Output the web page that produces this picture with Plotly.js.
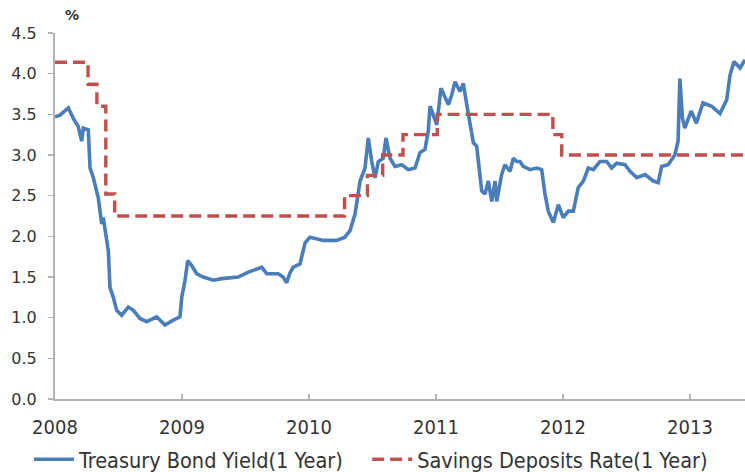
<!DOCTYPE html>
<html>
<head>
<meta charset="utf-8">
<script src="https://cdn.plot.ly/plotly-3.0.1.min.js"></script>
<style>html,body{margin:0;padding:0;background:#fff}#chart{width:745px;height:472px}</style>
</head>
<body>
<div id="chart"></div>
<script>
var bondYear = [2008.000,2008.039,2008.105,2008.144,2008.183,2008.210,2008.223,2008.262,2008.276,2008.302,2008.341,2008.368,2008.380,2008.394,2008.420,2008.433,2008.459,2008.486,2008.525,2008.577,2008.617,2008.669,2008.722,2008.801,2008.866,2008.931,2008.984,2008.998,2009.024,2009.045,2009.076,2009.116,2009.168,2009.246,2009.313,2009.443,2009.522,2009.628,2009.667,2009.758,2009.795,2009.824,2009.850,2009.876,2009.929,2009.969,2010.008,2010.113,2010.218,2010.283,2010.323,2010.362,2010.402,2010.441,2010.467,2010.494,2010.520,2010.546,2010.585,2010.606,2010.638,2010.677,2010.730,2010.782,2010.835,2010.874,2010.913,2010.939,2010.953,2010.979,2011.006,2011.039,2011.071,2011.097,2011.124,2011.150,2011.189,2011.215,2011.242,2011.268,2011.294,2011.320,2011.346,2011.360,2011.386,2011.412,2011.439,2011.465,2011.478,2011.517,2011.543,2011.583,2011.609,2011.635,2011.661,2011.687,2011.740,2011.793,2011.832,2011.858,2011.884,2011.924,2011.963,2012.002,2012.042,2012.081,2012.120,2012.160,2012.199,2012.239,2012.291,2012.344,2012.383,2012.423,2012.488,2012.528,2012.581,2012.646,2012.711,2012.750,2012.776,2012.828,2012.880,2012.906,2012.920,2012.941,2012.959,2013.009,2013.050,2013.102,2013.171,2013.236,2013.289,2013.315,2013.346,2013.394,2013.433];
var bondYield = [3.47,3.49,3.58,3.45,3.35,3.17,3.33,3.31,2.84,2.72,2.47,2.15,2.23,2.07,1.82,1.37,1.25,1.09,1.03,1.13,1.09,0.99,0.95,1.01,0.91,0.97,1.01,1.25,1.46,1.70,1.64,1.54,1.50,1.46,1.48,1.50,1.56,1.62,1.54,1.54,1.50,1.43,1.55,1.62,1.66,1.92,1.99,1.95,1.95,1.99,2.07,2.27,2.68,2.84,3.21,2.92,2.72,2.92,2.96,3.21,2.96,2.86,2.88,2.82,2.84,3.03,3.07,3.29,3.60,3.49,3.37,3.82,3.70,3.62,3.74,3.90,3.78,3.88,3.62,3.39,3.15,3.11,2.76,2.56,2.52,2.68,2.43,2.68,2.43,2.76,2.88,2.80,2.96,2.92,2.92,2.86,2.82,2.84,2.82,2.52,2.31,2.17,2.39,2.23,2.31,2.31,2.60,2.68,2.84,2.82,2.92,2.92,2.84,2.90,2.88,2.80,2.72,2.76,2.68,2.66,2.86,2.88,3.00,3.17,3.94,3.45,3.33,3.54,3.39,3.64,3.60,3.51,3.68,3.98,4.15,4.07,4.17];

var depositYear = [2008.0,2008.26,2008.33,2008.40,2008.47,2010.28,2010.46,2010.58,2010.74,2011.01,2011.92,2011.99,2013.433];
var depositRate = [4.14,3.87,3.60,2.52,2.25,2.50,2.75,3.00,3.25,3.50,3.25,3.00,3.00];

var yearTicks = [2008,2009,2010,2011,2012,2013];
var yearLabels = ['2008','2009','2010','2011','2012','2013'];
var yTicks = [0,0.5,1,1.5,2,2.5,3,3.5,4,4.5];

var narrow = 'DejaVu Sans Condensed, Liberation Sans Narrow, sans-serif';

var traces = [
  {x: bondYear, y: bondYield, type: 'scatter', mode: 'lines', name: 'Treasury Bond Yield(1 Year)   ',
   line: {color: '#4a7ebb', width: 3.6}},
  {x: depositYear, y: depositRate, type: 'scatter', mode: 'lines', name: 'Savings Deposits Rate(1 Year)',
   line: {color: '#c0504d', width: 3.4, dash: '12px,6px', shape: 'hv'}}
];

var layout = {
  width: 745, height: 472,
  margin: {l: 55, r: 0, t: 33, b: 73},
  paper_bgcolor: '#fff', plot_bgcolor: '#fff',
  showlegend: true,
  legend: {orientation: 'h', xref: 'container', yref: 'container',
           x: 0.498, xanchor: 'center', y: 0.027, yanchor: 'middle',
           font: {family: narrow, size: 21.5, color: '#333'}, itemwidth: 40, tracegroupgap: 0},
  xaxis: {range: [2008, 2013.433], tickvals: yearTicks, ticktext: yearLabels, automargin: false,
          showgrid: false, zeroline: false, showline: true, linecolor: '#b3b3b3', linewidth: 2,
          ticks: 'inside', ticklen: 5, tickcolor: '#b3b3b3', tickwidth: 1.5,
          ticklabelstandoff: 9,
          tickfont: {family: narrow, size: 20, color: '#333'}},
  yaxis: {range: [0, 4.5], tickvals: yTicks, tickformat: '.1f', automargin: false,
          showgrid: false, zeroline: false, showline: true, linecolor: '#b3b3b3', linewidth: 2,
          ticks: 'outside', ticklen: 5, tickcolor: '#b3b3b3', tickwidth: 1.5,
          ticklabelstandoff: 8,
          tickfont: {family: 'DejaVu Sans, sans-serif', size: 16, color: '#333'}},
  annotations: [{text: '<b>%</b>', xref: 'paper', yref: 'paper', x: 0.025, y: 1.049,
                 xanchor: 'center', yanchor: 'middle', showarrow: false,
                 font: {family: 'DejaVu Sans, sans-serif', size: 14, color: '#333'}}]
};

Plotly.newPlot('chart', traces, layout, {staticPlot: true, displayModeBar: false});
</script>
</body>
</html>
